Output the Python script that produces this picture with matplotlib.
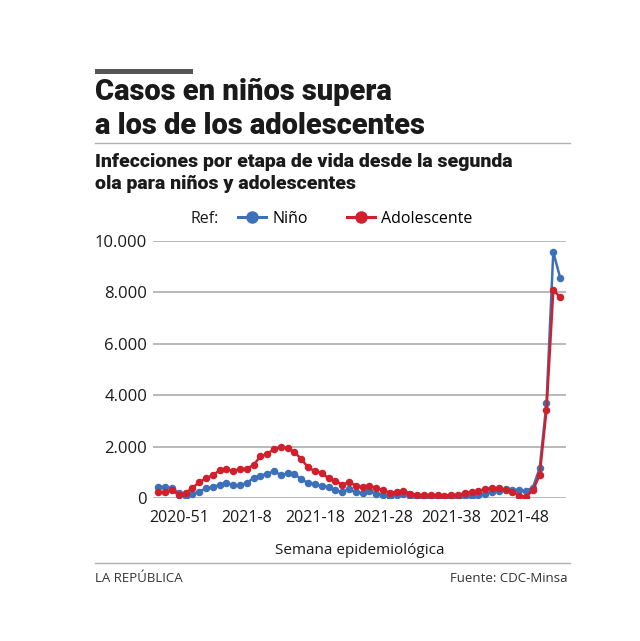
import matplotlib
matplotlib.use('Agg')
import matplotlib.pyplot as plt
from matplotlib.lines import Line2D

# semanas epidemiologicas: 2020-48 .. 2022-2
semanas = ['2020-%d' % w for w in range(48, 54)] + \
          ['2021-%d' % w for w in range(1, 53)] + \
          ['2022-%d' % w for w in range(1, 3)]

nino = [429, 429, 390, 195, 65, 156, 247, 377, 429, 506,
        597, 494, 494, 584, 779, 870, 935, 1052, 883, 961,
        935, 727, 584, 545, 455, 429, 299, 234, 351, 221,
        195, 273, 156, 104, 52, 104, 156, 65, 39, 20,
        26, 10, 5, 39, 13, 65, 78, 117, 156, 221,
        286, 364, 325, 299, 273, 403, 1160, 3680, 9570, 8575]

adolescente = [221, 221, 299, 130, 195, 390, 610, 766, 883, 1078,
               1117, 1052, 1130, 1143, 1286, 1623, 1714, 1909, 1974, 1935,
               1792, 1506, 1195, 1039, 974, 766, 675, 506, 623, 481,
               429, 481, 390, 312, 195, 234, 286, 169, 130, 104,
               130, 104, 91, 130, 117, 195, 221, 273, 351, 390,
               377, 325, 247, 91, 52, 299, 895, 3425, 8080, 7824]

yticks = [0, 2000, 4000, 6000, 8000, 10000]
ytick_labels = ['0', '2.000', '4.000', '6.000', '8.000', '10.000']
xtick_idx = [3, 13, 23, 33, 43, 53]

azul = '#3d70bb'
rojo = '#d11f2c'
gris = '#a6a6a6'
texto = '#1a1a1a'

plt.rcParams['font.family'] = ['Open Sans', 'DejaVu Sans']

fig = plt.figure(figsize=(6.4, 6.41), dpi=100)
ax = fig.add_axes([0.2386, 0.2231, 0.6456, 0.401])

x = list(range(len(semanas)))
ax.plot(x, nino, color=azul, lw=1.8, marker='o', ms=4.4, zorder=3)
ax.plot(x, adolescente, color=rojo, lw=1.8, marker='o', ms=4.4, zorder=4)

ax.set_ylim(0, 10000)
ax.set_xlim(-0.82, 59.85)
ax.set_yticks(yticks)
ax.set_yticklabels(ytick_labels, fontsize=12, color=texto)
ax.set_xticks(xtick_idx)
ax.set_xticklabels([semanas[i] for i in xtick_idx], fontsize=11.5, color=texto)
ax.tick_params(length=0, pad=4)
ax.tick_params(axis='x', pad=9)
ax.grid(axis='y', color=gris, lw=1.1, zorder=0)
for s in ax.spines.values():
    s.set_visible(False)
ax.set_xlabel('Semana epidemiológica', fontsize=11, color=texto, labelpad=12)

# titulo
fig.add_artist(plt.Rectangle((95 / 640, 1 - 74 / 641), 98 / 640, 5 / 641,
                             transform=fig.transFigure, color='#555555', lw=0))
fig.text(95 / 640, 1 - 100 / 641, 'Casos en niños supera', fontsize=21,
         fontweight='black', family='Roboto', color=texto, va='baseline')
fig.text(95 / 640, 1 - 133.5 / 641, 'a los de los adolescentes', fontsize=21,
         fontweight='black', family='Roboto', color=texto, va='baseline')
fig.add_artist(Line2D([95 / 640, 570 / 640], [1 - 143 / 641] * 2,
                      transform=fig.transFigure, color='#b0b0b0', lw=1))
fig.text(95 / 640, 1 - 167 / 641, 'Infecciones por etapa de vida desde la segunda',
         fontsize=14, fontweight='black', family='Roboto', color=texto, va='baseline')
fig.text(95 / 640, 1 - 189 / 641, 'ola para niños y adolescentes',
         fontsize=14, fontweight='black', family='Roboto', color=texto, va='baseline')

# leyenda
fig.text(191 / 640, 1 - 219 / 641, 'Ref:', fontsize=11.5, color=texto, va='center')
h1 = Line2D([], [], color=azul, lw=2.2, marker='o', ms=8)
h2 = Line2D([], [], color=rojo, lw=2.2, marker='o', ms=8)
fig.legend([h1, h2], ['Niño', 'Adolescente'], loc='center left',
           bbox_to_anchor=(224 / 640, 1 - 219 / 641), ncol=2, frameon=False,
           fontsize=11.5, handlelength=1.75, handletextpad=0.4, columnspacing=2.4)

# pie
fig.add_artist(Line2D([95 / 640, 570 / 640], [1 - 563 / 641] * 2,
                      transform=fig.transFigure, color='#b0b0b0', lw=1))
fig.text(95 / 640, 1 - 579 / 641, 'LA REPÚBLICA', fontsize=9.5, color='#333333', va='center')
fig.text(568 / 640, 1 - 579 / 641, 'Fuente: CDC-Minsa', fontsize=9.5, color='#333333',
         va='center', ha='right')

fig.savefig('out.png', dpi=100, facecolor='white')
